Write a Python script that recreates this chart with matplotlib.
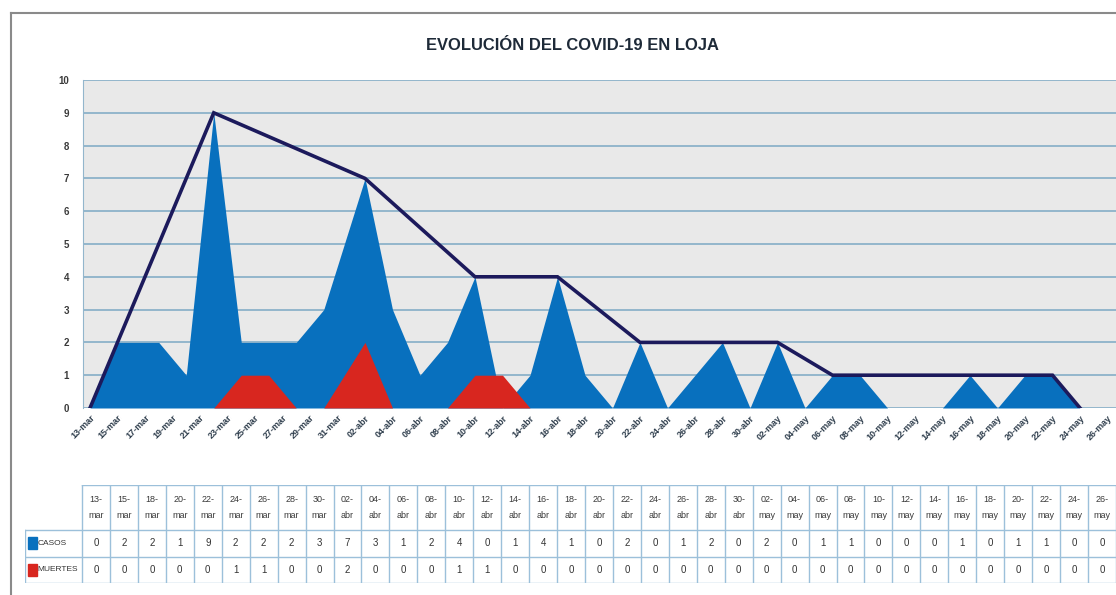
import matplotlib

matplotlib.use("Agg")
import matplotlib.pyplot as plt
import pandas as pd
from matplotlib import font_manager
from matplotlib.patches import Rectangle

FECHAS = [
    "2020-03-13", "2020-03-15", "2020-03-18", "2020-03-20", "2020-03-22",
    "2020-03-24", "2020-03-26", "2020-03-28", "2020-03-30", "2020-04-02",
    "2020-04-04", "2020-04-06", "2020-04-08", "2020-04-10", "2020-04-12",
    "2020-04-14", "2020-04-16", "2020-04-18", "2020-04-20", "2020-04-22",
    "2020-04-24", "2020-04-26", "2020-04-28", "2020-04-30", "2020-05-02",
    "2020-05-04", "2020-05-06", "2020-05-08", "2020-05-10", "2020-05-12",
    "2020-05-14", "2020-05-16", "2020-05-18", "2020-05-20", "2020-05-22",
    "2020-05-24", "2020-05-26",
]
CASOS = [0, 2, 2, 1, 9, 2, 2, 2, 3, 7, 3, 1, 2, 4, 0, 1, 4, 1, 0, 2,
         0, 1, 2, 0, 2, 0, 1, 1, 0, 0, 0, 1, 0, 1, 1, 0, 0]
MUERTES = [0, 0, 0, 0, 0, 1, 1, 0, 0, 2, 0, 0, 0, 1, 1, 0, 0, 0, 0, 0,
           0, 0, 0, 0, 0, 0, 0, 0, 0, 0, 0, 0, 0, 0, 0, 0, 0]

# envelope line drawn over the areas
TENDENCIA_FECHAS = ["2020-03-13", "2020-03-22", "2020-04-02", "2020-04-10",
                    "2020-04-16", "2020-04-22", "2020-05-02", "2020-05-06",
                    "2020-05-22", "2020-05-24"]
TENDENCIA_VALORES = [0, 9, 7, 4, 4, 2, 2, 1, 1, 0]

MESES = {3: "mar", 4: "abr", 5: "may"}

AZUL = "#0870BE"
ROJO = "#D8261F"
NAVY = "#1C1A5C"
GRID = "#93B6CC"
TEXTO = "#2E3D4C"

# narrow font if available (closest to the Calibri look), else Arial metrics
nombres = {f.name for f in font_manager.fontManager.ttflist}
narrow = "Liberation Sans Narrow" in nombres
FONT = ["Liberation Sans Narrow" if narrow else "Liberation Sans", "DejaVu Sans"]
plt.rcParams["font.family"] = FONT
k = 1.0 if narrow else 0.85  # shrink factor for wider font

W, H = 1116, 595
fig = plt.figure(figsize=(W / 100, H / 100), dpi=100)
fig.patch.set_facecolor("white")

fechas = pd.to_datetime(FECHAS)
inicio = fechas[0]
x = [(f - inicio).days for f in fechas]
x_tend = [(f - inicio).days for f in pd.to_datetime(TENDENCIA_FECHAS)]

# ---- main area chart
ax = fig.add_axes([83 / W, 1 - 408 / H, (W - 83) / W, 328 / H])
ax.set_facecolor("#E9E9E9")
ax.fill_between(x, CASOS, 0, color=AZUL, linewidth=0, zorder=3)
ax.fill_between(x, MUERTES, 0, color=ROJO, linewidth=0, zorder=4)
ax.plot(x_tend, TENDENCIA_VALORES, color=NAVY, linewidth=2.6,
        solid_joinstyle="miter", zorder=5)

px_dia = 13.75
ax.set_xlim(-7 / px_dia, (W - 90) / px_dia)
ax.set_ylim(0, 10)
ax.set_yticks(range(0, 11))
ax.yaxis.grid(True, color=GRID, linewidth=1.4, zorder=1)
ax.set_axisbelow(True)
for s in ["top", "right", "bottom"]:
    ax.spines[s].set_visible(False)
ax.spines["left"].set_color(GRID)
ax.tick_params(axis="y", length=0, pad=10, labelsize=7, labelcolor="#3A3A3A")
for lab in ax.get_yticklabels():
    lab.set_fontweight("bold")

ticks = pd.date_range(inicio, fechas[-1], freq="2D")
ax.set_xticks([(t - inicio).days for t in ticks])
ax.set_xticklabels([f"{t.day:02d}-{MESES[t.month]}" for t in ticks],
                   rotation=45, ha="right", rotation_mode="anchor",
                   fontsize=7 * k + 0.5, color=TEXTO, fontweight="bold")
ax.tick_params(axis="x", length=0, pad=4)

fig.text(572 / W, 1 - 46 / H, "EVOLUCIÓN DEL COVID-19 EN LOJA",
         ha="center", va="center", fontsize=14 * k, fontweight="bold",
         color="#1E2A38")

# ---- data table below
n = len(FECHAS)
label_w = 57 / ((W - 82) / n)
head_h = 1.7
tax = fig.add_axes([25 / W, 12 / H, (W - 25) / W, 98 / H])
tax.set_xlim(-label_w, n)
tax.set_ylim(head_h + 2, 0)
tax.axis("off")

lc = "#9CC0DA"
for i in range(n + 1):
    tax.plot([i, i], [0, head_h + 2], color=lc, linewidth=1)
tax.plot([-label_w, -label_w], [head_h, head_h + 2], color=lc, linewidth=1)
tax.plot([0, n], [0, 0], color=lc, linewidth=1)
for yy in [head_h, head_h + 1, head_h + 2]:
    tax.plot([-label_w, n], [yy, yy], color=lc, linewidth=1)

for i, f in enumerate(fechas):
    tax.text(i + 0.5, head_h / 2, f"{f.day:02d}-\n{MESES[f.month]}",
             ha="center", va="center", fontsize=6.5, color="#3A3A3A",
             linespacing=1.9)
    tax.text(i + 0.5, head_h + 0.5, str(CASOS[i]), ha="center", va="center",
             fontsize=7, color="#333333")
    tax.text(i + 0.5, head_h + 1.5, str(MUERTES[i]), ha="center",
             va="center", fontsize=7, color="#333333")

for r, (nombre, col) in enumerate([("CASOS", AZUL), ("MUERTES", ROJO)]):
    yc = head_h + 0.5 + r
    tax.add_patch(Rectangle((-label_w + 0.12, yc - 0.22), 0.3, 0.44,
                            color=col))
    tax.text(-label_w + 0.46, yc, nombre, ha="left", va="center",
             fontsize=6, color="#333333")

# outer frame of the original screenshot
fig.add_artist(plt.Line2D([11 / W, 1], [1 - 13 / H, 1 - 13 / H],
                          color="#8A8A8A", linewidth=1.5))
fig.add_artist(plt.Line2D([11 / W, 11 / W], [0, 1 - 13 / H],
                          color="#8A8A8A", linewidth=1.5))

fig.savefig("out.png", dpi=100)
